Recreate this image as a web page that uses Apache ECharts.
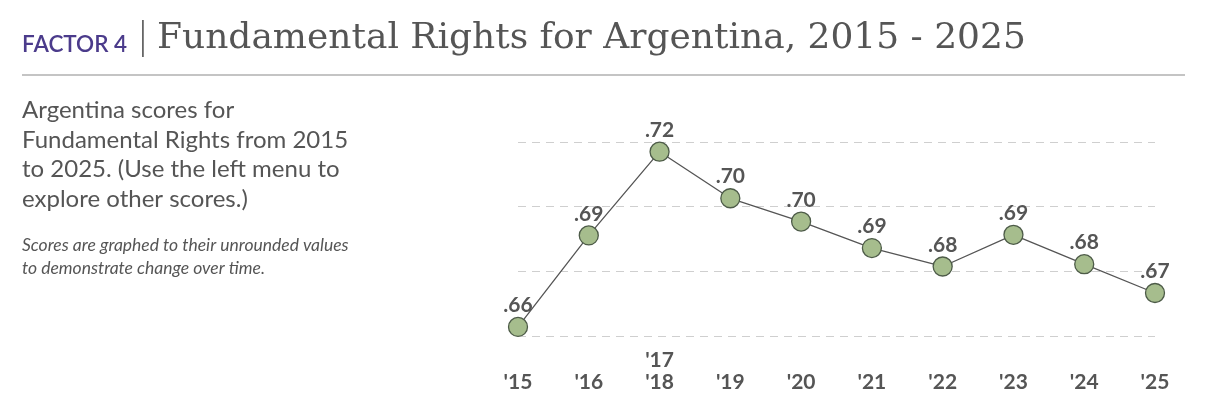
<!DOCTYPE html>
<html>
<head>
<meta charset="utf-8">
<script src="https://cdn.jsdelivr.net/npm/echarts@6/dist/echarts.min.js"></script>
<style>
  html, body { margin: 0; padding: 0; background: #fff; }
  #main { width: 1206px; height: 414px; }
</style>
</head>
<body>
<div id="main"></div>
<script>
// years on the x axis ('17 and '18 share one survey)
var years = ["'15", "'16", "'17\n'18", "'19", "'20", "'21", "'22", "'23", "'24", "'25"];
// unrounded scores
var scores = [0.6628, 0.6911, 0.7170, 0.7026, 0.6954, 0.6872, 0.6815, 0.6913, 0.6822, 0.6733];
var yMin = 0.66, yMax = 0.72, yStep = 0.02;

var grey = '#555555';
var myChart = echarts.init(document.getElementById('main'));

myChart.setOption({
  animation: false,
  grid: { left: 518, right: 51, top: 142, bottom: 78 },
  xAxis: {
    type: 'category',
    data: years,
    boundaryGap: false,
    axisLine: { show: false },
    axisTick: { show: false },
    axisLabel: {
      color: grey,
      fontFamily: 'Lato',
      fontWeight: 'bold',
      fontSize: 21,
      lineHeight: 22,
      verticalAlign: 'bottom',
      margin: 57,
      interval: 0
    }
  },
  yAxis: {
    type: 'value',
    min: yMin,
    max: yMax,
    interval: yStep,
    axisLabel: { show: false },
    axisLine: { show: false },
    axisTick: { show: false },
    splitLine: { lineStyle: { color: '#cfcfcf', type: [8, 6], width: 1 } }
  },
  series: [{
    type: 'line',
    data: scores,
    symbol: 'circle',
    symbolSize: 19,
    lineStyle: { color: '#555', width: 1.3 },
    itemStyle: { color: '#a6bd8d', borderColor: '#4d5b48', borderWidth: 1.3 },
    label: {
      show: true,
      position: 'top',
      distance: 1,
      color: grey,
      fontFamily: 'Lato',
      fontWeight: 'bold',
      fontSize: 21,
      formatter: function (p) { return p.value.toFixed(2).replace('0.', '.'); }
    }
  }],
  graphic: [
    { type: 'text', left: 22, top: 33, style: { text: 'FACTOR 4', fill: '#4b3b8b', font: '600 22.5px Lato' } },
    { type: 'rect', shape: { x: 142, y: 20, width: 1.8, height: 37 }, style: { fill: '#666' } },
    { type: 'text', left: 157, top: 21, style: { text: 'Fundamental Rights for Argentina, 2015 - 2025', fill: grey, font: '36px "DejaVu Serif"' } },
    { type: 'rect', shape: { x: 22, y: 74.5, width: 1163, height: 1 }, style: { fill: '#8a8a8a' } },
    { type: 'text', left: 22, top: 96, style: {
        text: 'Argentina scores for\nFundamental Rights from 2015\nto 2025. (Use the left menu to\nexplore other scores.)',
        fill: grey, font: '24px Lato', lineHeight: 29.5 } },
    { type: 'text', left: 22, top: 234, style: {
        text: 'Scores are graphed to their unrounded values\nto demonstrate change over time.',
        fill: grey, font: 'italic 17.5px Lato', lineHeight: 23 } }
  ]
});
</script>
</body>
</html>
